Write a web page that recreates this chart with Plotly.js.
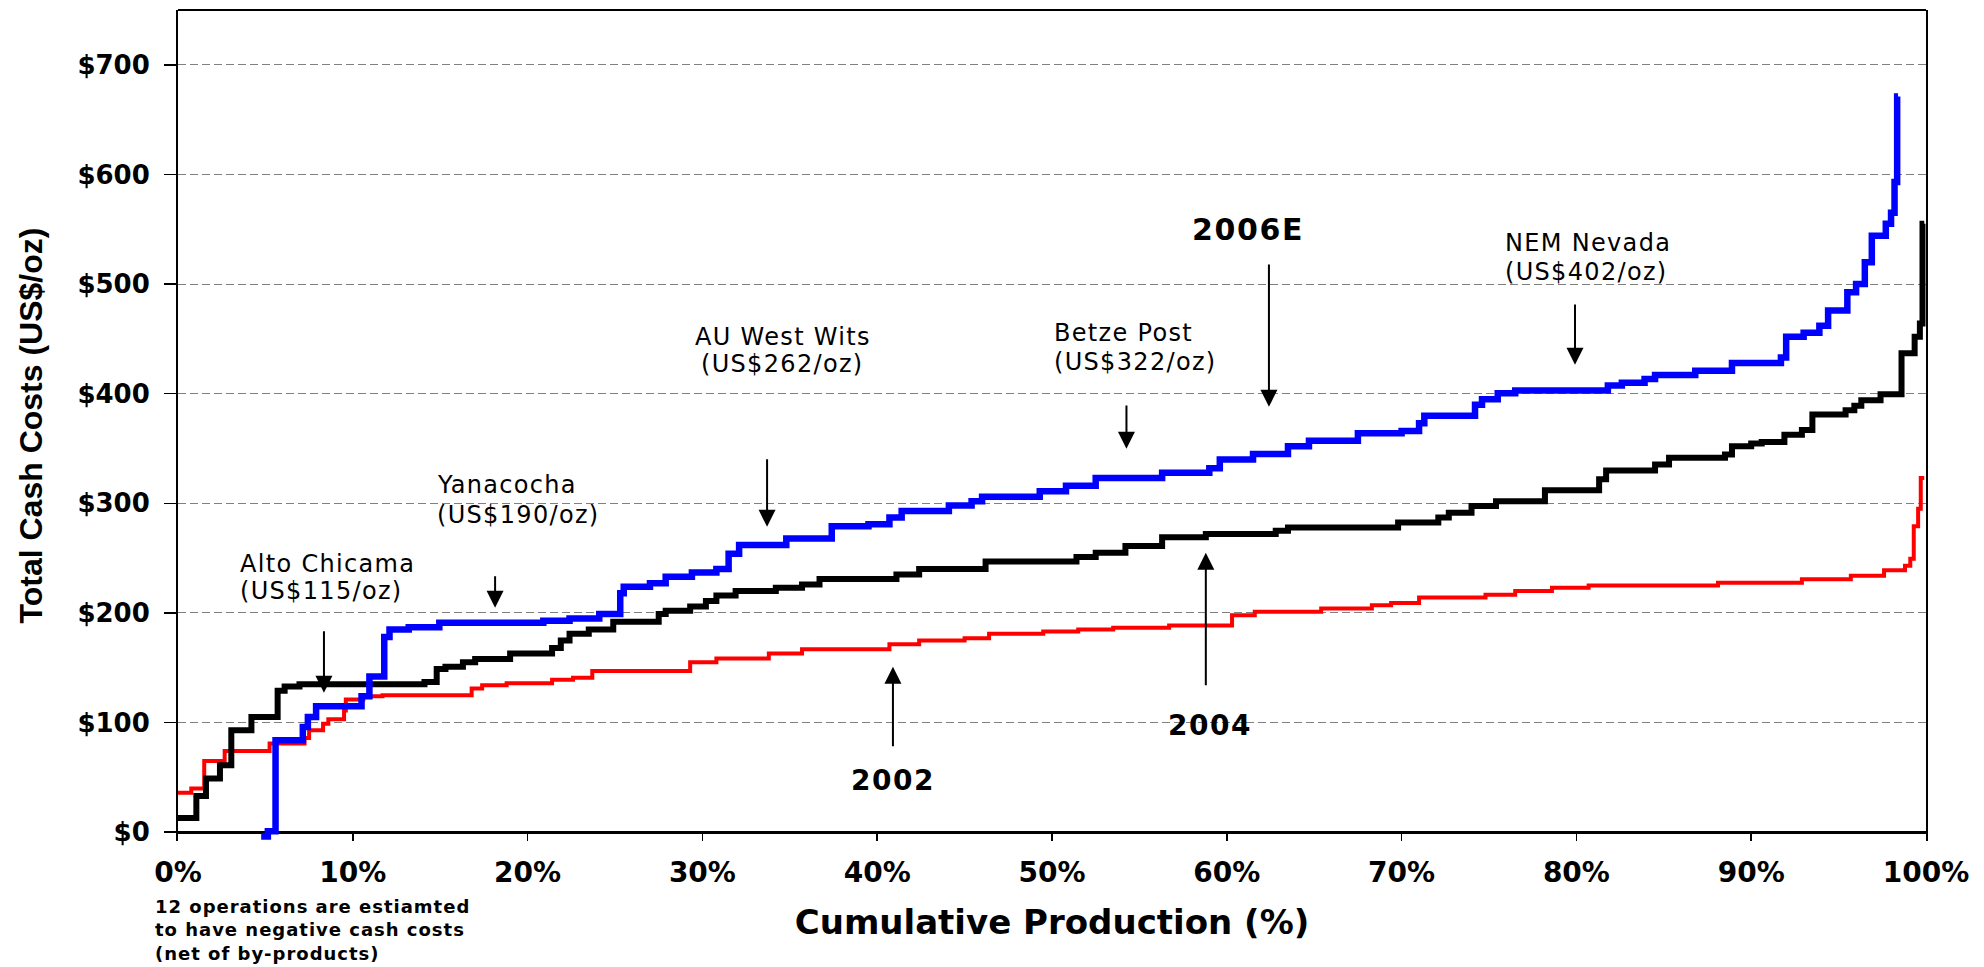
<!DOCTYPE html>
<html>
<head>
<meta charset="utf-8">
<script src="https://cdn.plot.ly/plotly-3.0.1.min.js"></script>
<style>
html,body{margin:0;padding:0;background:#ffffff;}
#chart{width:1984px;height:967px;}
text.annotation-text{letter-spacing:0.055em;}
</style>
</head>
<body>
<div id="chart"></div>
<script>
// ---- Data ----
// Cumulative production (%) at the start of each step, and the cash cost of that step (US$/oz)
const x2002 = [0, 0.76, 1.5, 2.67, 5.24, 7.24, 7.5, 8.3, 8.6, 9.5, 9.6, 10.6, 11.7, 16.8, 17.4, 18.8, 21.4, 22.6, 23.7, 29.3, 30.8, 33.8, 35.7, 40.7, 42.4, 45.0, 46.4, 49.5, 51.5, 53.5, 56.7, 60.3, 61.6, 65.4, 68.3, 69.4, 71.0, 74.8, 76.5, 78.6, 80.7, 88.1, 92.9, 95.7, 97.6, 98.8, 99.1, 99.3, 99.55, 99.7, 99.9];
const y2002 = [36, 40, 65, 74, 81, 86, 93, 99, 103, 111, 121, 124, 125, 131, 134, 136, 139, 141, 147, 155, 158.5, 163, 167, 171.5, 175, 177, 181, 183, 185, 186.5, 188.5, 198, 201, 204, 207, 209, 214, 216.7, 220, 223, 225, 227.5, 230.7, 234, 239, 243, 249.5, 279, 295, 323, 323];

const x2004 = [0, 1.05, 1.6, 2.4, 3.05, 4.2, 5.7, 6.1, 6.95, 14.1, 14.8, 15.3, 16.3, 17.0, 19.0, 21.4, 21.9, 22.4, 23.5, 24.9, 27.5, 27.9, 29.3, 30.2, 30.8, 31.9, 34.2, 35.7, 36.7, 41.1, 42.4, 46.2, 51.4, 52.5, 54.2, 56.3, 58.8, 62.8, 63.5, 69.8, 72.1, 72.7, 74.0, 75.4, 78.2, 81.3, 81.7, 84.5, 85.3, 88.5, 88.9, 90.0, 90.6, 91.9, 92.9, 93.5, 95.4, 95.9, 96.3, 97.4, 98.6, 99.35, 99.65, 99.8, 99.9];
const y2004 = [13, 33, 49, 61, 93, 105, 129, 133, 135, 137, 149, 151, 155, 158, 163, 168, 175, 181, 185, 192, 199, 202, 206, 211, 216, 220, 223, 226, 231, 235, 240, 247, 251, 255, 261, 269, 272, 275, 278, 282.5, 287, 291.5, 297.5, 302, 312, 322, 330, 335.5, 341.5, 344.5, 352, 354.5, 356, 362.5, 367, 381, 385, 389, 394, 399.5, 437, 452, 464, 555, 555];

const x2006 = [4.76, 5.14, 5.58, 7.14, 7.43, 7.9, 10.5, 10.95, 11.8, 12.1, 13.2, 14.95, 20.9, 22.4, 24.1, 25.3, 25.5, 27.0, 27.9, 29.4, 30.8, 31.5, 32.1, 34.8, 37.4, 39.5, 40.7, 41.4, 44.1, 45.4, 46.0, 49.3, 50.8, 52.5, 56.3, 59.0, 59.6, 61.5, 63.5, 64.7, 67.5, 70.0, 71.0, 71.3, 74.2, 74.6, 75.5, 76.5, 81.8, 82.6, 83.9, 84.5, 86.8, 88.9, 91.7, 92.0, 93.0, 93.9, 94.4, 95.5, 96.0, 96.5, 96.9, 97.7, 98.0, 98.2, 98.35, 98.4];
const y2006 = [-4, 1, 84, 96, 105, 115, 124, 142, 178, 185, 187, 191, 193, 195, 199, 218, 224, 227, 233, 237, 240, 254, 262, 268, 279, 281, 287, 293, 298, 302, 306, 311, 316, 323, 328, 332, 340, 345, 352, 357, 364, 366, 373, 380, 390, 395, 400.5, 403, 407.5, 410, 413.5, 417, 421, 428, 433, 452, 455.5, 462, 476, 492.5, 500, 520, 544, 555, 565, 593, 671, 671];

const xTicks = [0, 10, 20, 30, 40, 50, 60, 70, 80, 90, 100];
const xTickText = ['0%', '10%', '20%', '30%', '40%', '50%', '60%', '70%', '80%', '90%', '100%'];
const yTicks = [0, 100, 200, 300, 400, 500, 600, 700];
const yTickText = ['$0', '$100', '$200', '$300', '$400', '$500', '$600', '$700'];

// ---- Chart ----
const traces = [
  {name: '2002', x: x2002, y: y2002, type: 'scatter', mode: 'lines',
   line: {shape: 'hv', color: '#ff0000', width: 4}, hoverinfo: 'skip'},
  {name: '2004', x: x2004, y: y2004, type: 'scatter', mode: 'lines',
   line: {shape: 'hv', color: '#000000', width: 6}, hoverinfo: 'skip'},
  {name: '2006E', x: x2006, y: y2006, type: 'scatter', mode: 'lines',
   line: {shape: 'hv', color: '#0000ff', width: 6.5}, hoverinfo: 'skip'}
];

const lblFont = {family: 'DejaVu Sans', size: 24, color: '#000'};
const yrFont = {family: 'DejaVu Sans', size: 28, color: '#000', weight: 'bold'};
const yrFontBig = {family: 'DejaVu Sans', size: 30, color: '#000', weight: 'bold'};

function label(text, x, y, xanchor, font) {
  return {text: text, x: x, y: y, xref: 'x', yref: 'y', xanchor: xanchor, yanchor: 'middle',
          showarrow: false, font: font || lblFont};
}
function arrow(x, yTip, yTail) {
  return {text: '', x: x, y: yTip, ax: x, ay: yTail, xref: 'x', yref: 'y', axref: 'x', ayref: 'y',
          showarrow: true, arrowhead: 2, arrowsize: 1.7, arrowwidth: 2, arrowcolor: '#000', standoff: 0};
}

const annotations = [
  label('Alto Chicama', 3.46, 244.8, 'left'),
  label('(US$115/oz)', 3.46, 220.2, 'left'),
  label('Yanacocha', 14.73, 316.9, 'left'),
  label('(US$190/oz)', 14.73, 289.5, 'left'),
  label('AU West Wits', 34.61, 451.8, 'center'),
  label('(US$262/oz)', 34.61, 426.7, 'center'),
  label('Betze Post', 50.0, 455.4, 'left'),
  label('(US$322/oz)', 50.0, 429.0, 'left'),
  label('NEM Nevada', 75.8, 537.5, 'left'),
  label('(US$402/oz)', 75.8, 511.0, 'left'),
  label('2006E', 61.2, 550.2, 'center', yrFontBig),
  label('2004', 59.04, 97.2, 'center', yrFont),
  label('2002', 40.9, 47.0, 'center', yrFont),
  arrow(8.35, 127.3, 184.6),
  arrow(18.14, 204.8, 234.9),
  arrow(33.7, 278.6, 341.5),
  arrow(54.26, 349.7, 390.7),
  arrow(62.41, 388.0, 519.2),
  arrow(79.92, 426.3, 482.8),
  arrow(58.8, 254.9, 132.7),
  arrow(40.9, 151.0, 77.1),
  {text: '12 operations are estiamted<br>to have negative cash costs<br>(net of by-products)',
   xref: 'paper', yref: 'paper', x: -0.0143, y: -0.064, xanchor: 'left', yanchor: 'top',
   align: 'left', showarrow: false,
   font: {family: 'DejaVu Sans', size: 18, color: '#000', weight: 'bold'}}
];

const layout = {
  width: 1984, height: 967,
  margin: {l: 178, r: 58, t: 10, b: 126, pad: 0},
  paper_bgcolor: '#ffffff', plot_bgcolor: '#ffffff',
  showlegend: false,
  font: {family: 'DejaVu Sans', color: '#000'},
  xaxis: {
    range: [0, 100], tickmode: 'array', tickvals: xTicks, ticktext: xTickText,
    showgrid: false, zeroline: false, showline: false,
    ticks: 'inside', ticklen: 9, tickwidth: 1.5, tickcolor: '#000',
    tickfont: {family: 'DejaVu Sans', size: 28, color: '#000', weight: 'bold'},
    ticklabelstandoff: 12,
    title: {text: 'Cumulative Production (%)', standoff: 22,
            font: {family: 'DejaVu Sans', size: 34, color: '#000', weight: 'bold'}},
    fixedrange: true
  },
  yaxis: {
    range: [-8, 750], tickmode: 'array', tickvals: yTicks, ticktext: yTickText,
    showgrid: true, gridcolor: '#808080', gridwidth: 1, griddash: '8px,4px',
    zeroline: true, zerolinecolor: '#000', zerolinewidth: 3,
    showline: true, linecolor: '#000', linewidth: 2, mirror: true,
    ticks: 'outside', ticklen: 12, tickwidth: 1.5, tickcolor: '#000',
    tickfont: {family: 'DejaVu Sans', size: 26, color: '#000', weight: 'bold'},
    ticklabelstandoff: 9,
    title: {text: 'Total Cash Costs (US$/oz)', standoff: 25,
            font: {family: 'Liberation Sans, Arial, sans-serif', size: 32, color: '#000', weight: 'bold'}},
    fixedrange: true
  },
  shapes: [
    {type: 'line', xref: 'paper', yref: 'paper', x0: 0, x1: 1, y0: 1, y1: 1,
     line: {color: '#000', width: 2}}
  ],
  annotations: annotations
};

Plotly.newPlot('chart', traces, layout, {displayModeBar: false, staticPlot: true});
</script>
</body>
</html>
